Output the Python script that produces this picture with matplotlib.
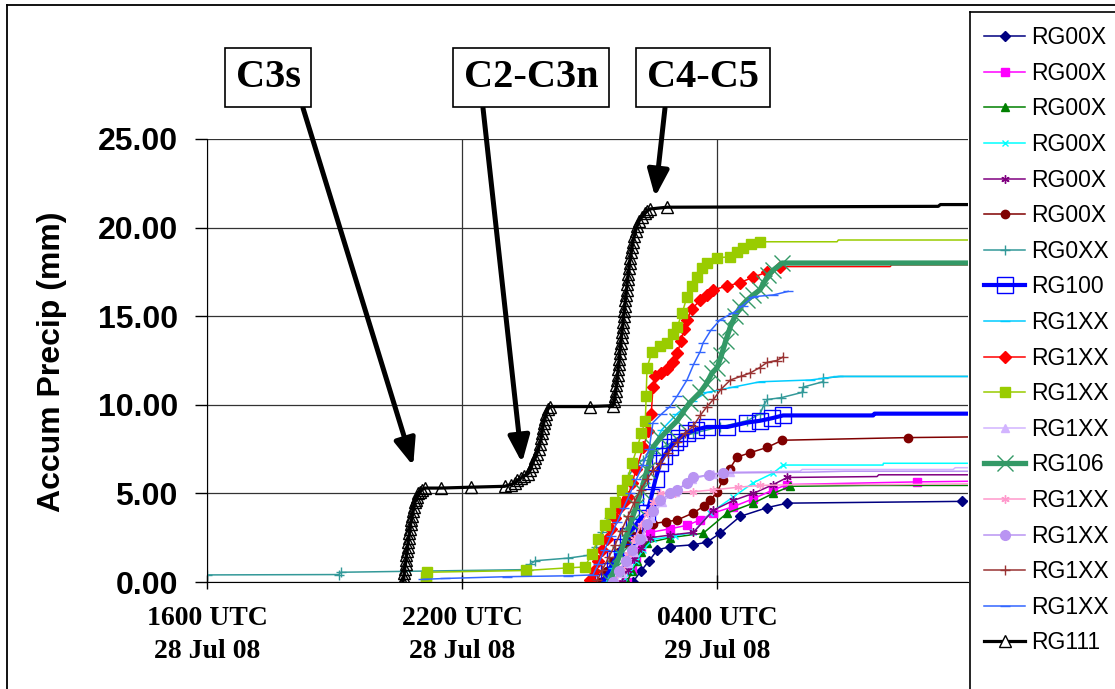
# Accumulated rain gauge precipitation, 28-29 Jul 08
import matplotlib
matplotlib.use("Agg")
import matplotlib.pyplot as plt
from matplotlib.lines import Line2D

# times are hours after 1600 UTC 28 Jul 08, values are accumulated precip (mm)
names = ["RG00X", "RG00X", "RG00X", "RG00X", "RG00X", "RG00X", "RG0XX", "RG100", "RG1XX",
         "RG1XX", "RG1XX", "RG1XX", "RG106", "RG1XX", "RG1XX", "RG1XX", "RG1XX", "RG111"]
colors = ["#000080", "#FF00FF", "#008000", "#00FFFF", "#800080", "#800000", "#339999", "#0000FF", "#00CCFF",
          "#FF0000", "#99CC00", "#D2B4FF", "#339966", "#FF99CC", "#B994F2", "#993333", "#3366FF", "#000000"]
markers = ["D", "s", "^", "x", (6, 2, 0), "o", "+", "s", "_",
           "D", "s", "^", "x", (6, 2, 0), "o", "+", "_", "^"]

t1 = [10.02, 10.2, 10.4, 10.59, 10.89, 11.44, 11.76, 12.07, 12.54, 13.18, 13.65, 17.76, 18.5]
p1 = [0.0, 0.6, 1.2, 1.8, 2.0, 2.1, 2.25, 2.75, 3.7, 4.2, 4.45, 4.55, 4.6]
t2 = [9.88, 10.0, 10.1, 10.2, 10.3, 10.42, 10.89, 11.29, 11.6, 11.91, 12.38, 12.85, 13.32, 13.65, 16.71, 18.5]
p2 = [0.0, 0.7, 1.3, 1.9, 2.4, 2.8, 3.0, 3.2, 3.5, 3.9, 4.25, 4.7, 5.2, 5.5, 5.65, 5.7]
t3 = [9.88, 10.0, 10.12, 10.22, 10.35, 10.89, 11.67, 12.24, 12.85, 13.32, 13.72, 15.5, 18.5]
p3 = [0.0, 0.6, 1.2, 1.7, 2.2, 2.5, 2.75, 3.9, 4.45, 5.0, 5.4, 5.45, 5.45]
t4 = [9.8, 9.95, 10.1, 10.25, 10.49, 11.0, 11.44, 11.84, 12.38, 12.85, 13.32, 13.55, 15.9, 15.91, 18.5]
p4 = [0.0, 0.6, 1.2, 1.8, 2.4, 2.6, 2.8, 3.9, 4.8, 5.6, 6.15, 6.6, 6.6, 6.7, 6.7]
t5 = [9.75, 9.9, 10.05, 10.2, 10.42, 10.9, 11.44, 11.91, 12.38, 12.85, 13.32, 13.65, 15.76, 15.8, 18.5]
p5 = [0.0, 0.7, 1.3, 1.9, 2.5, 2.65, 2.8, 4.05, 4.6, 5.0, 5.5, 5.9, 5.95, 6.05, 6.05]
t6 = [9.25, 9.4, 9.55, 9.7, 9.85, 10.0, 10.2, 10.49, 10.8, 11.06, 11.44, 11.7, 11.84, 12.0, 12.14, 12.3,
      12.47, 12.78, 13.18, 13.53, 16.49, 18.5]
p6 = [0.0, 0.6, 1.2, 1.7, 2.2, 2.6, 3.0, 3.3, 3.4, 3.5, 3.9, 4.3, 4.6, 5.1, 5.75, 6.4,
      7.05, 7.3, 7.6, 8.0, 8.15, 8.2]
t7 = [0.0, 3.1, 3.15, 7.55, 7.6, 7.72, 8.5, 8.95, 9.15, 9.3, 9.45, 9.6, 9.75, 9.9, 10.05, 10.25, 10.49,
      10.8, 11.1, 11.44, 12.07, 12.71, 13.01, 13.1, 13.18, 13.5, 14.0, 14.02, 14.49, 14.5, 14.9, 18.5]
p7 = [0.4, 0.42, 0.55, 0.7, 1.0, 1.2, 1.35, 1.5, 2.0, 2.8, 3.6, 4.4, 5.2, 5.9, 6.5, 6.9, 7.3,
      7.7, 8.1, 8.4, 8.75, 9.1, 9.5, 10.0, 10.3, 10.4, 10.7, 11.0, 11.3, 11.5, 11.6, 11.6]
t8 = [9.32, 9.45, 9.6, 9.75, 9.9, 10.05, 10.2, 10.35, 10.45, 10.55, 10.66, 10.75, 10.89, 11.0, 11.1,
      11.29, 11.5, 11.76, 12.24, 12.71, 13.01, 13.3, 13.55, 15.67, 15.7, 18.5]
p8 = [0.0, 0.6, 1.3, 2.0, 2.6, 3.1, 3.6, 3.9, 4.8, 5.8, 6.7, 7.1, 7.6, 7.9, 8.1,
      8.4, 8.6, 8.75, 8.75, 9.0, 9.1, 9.25, 9.4, 9.4, 9.5, 9.5]
t9 = [9.4, 9.55, 9.7, 9.85, 10.0, 10.15, 10.3, 10.49, 10.7, 11.06, 11.4, 11.76, 12.38, 13.01, 14.19, 14.85, 18.5]
p9 = [0.0, 0.8, 1.7, 2.6, 3.6, 4.5, 5.6, 7.6, 8.6, 9.5, 10.2, 10.7, 11.0, 11.3, 11.4, 11.6, 11.6]
t10 = [9.01, 9.1, 9.2, 9.3, 9.4, 9.5, 9.6, 9.7, 9.8, 9.9, 10.0, 10.1, 10.26, 10.38, 10.45, 10.49, 10.54,
       10.68, 10.82, 10.95, 11.06, 11.15, 11.22, 11.29, 11.4, 11.6, 11.75, 11.91, 12.24, 12.54, 12.85,
       13.18, 13.48, 16.07, 16.1, 18.5]
p10 = [0.1, 0.6, 1.2, 1.8, 2.4, 3.0, 3.6, 4.2, 4.5, 4.8, 5.6, 6.4, 7.6, 8.5, 9.5, 11.0, 11.6,
       11.8, 12.0, 12.4, 12.9, 13.6, 14.3, 14.8, 15.4, 15.9, 16.2, 16.5, 16.7, 16.9, 17.2,
       17.5, 17.8, 17.8, 17.9, 17.9]
t11 = [5.15, 5.16, 5.17, 7.5, 8.5, 8.89, 9.05, 9.2, 9.35, 9.48, 9.6, 9.75, 9.88, 10.0, 10.12, 10.22,
       10.31, 10.33, 10.35, 10.47, 10.66, 10.82, 10.95, 11.06, 11.18, 11.29, 11.41, 11.53, 11.65, 11.76,
       12.0, 12.31, 12.47, 12.61, 12.8, 13.01, 14.82, 14.85, 18.5]
p11 = [0.0, 0.3, 0.55, 0.65, 0.8, 0.85, 1.6, 2.4, 3.2, 3.9, 4.5, 5.2, 5.75, 6.7, 7.6, 8.4,
       9.1, 10.5, 12.1, 13.0, 13.3, 13.5, 14.0, 14.4, 15.2, 16.1, 16.7, 17.2, 17.7, 18.0,
       18.3, 18.35, 18.6, 18.85, 19.05, 19.2, 19.2, 19.3, 19.3]
t12 = [9.6, 9.75, 9.9, 10.05, 10.25, 10.45, 10.7, 11.0, 11.4, 11.9, 12.3, 13.95, 14.0, 17.55, 17.6, 18.5]
p12 = [0.0, 0.5, 1.1, 1.7, 2.6, 3.6, 4.5, 5.1, 5.8, 6.1, 6.2, 6.25, 6.35, 6.35, 6.45, 6.45]
t13 = [9.48, 9.6, 9.72, 9.85, 9.97, 10.1, 10.22, 10.35, 10.49, 10.65, 10.85, 11.06, 11.2, 11.35, 11.6,
       11.75, 11.88, 12.0, 12.1, 12.2, 12.31, 12.42, 12.54, 12.7, 12.85, 13.01, 13.1, 13.2, 13.32, 13.53, 18.5]
p13 = [0.0, 0.8, 1.6, 2.5, 3.4, 4.3, 5.2, 6.3, 7.6, 8.1, 8.6, 9.1, 9.6, 10.1, 10.7,
       11.2, 11.8, 12.1, 12.8, 13.6, 14.4, 15.0, 15.5, 15.9, 16.2, 16.5, 16.9, 17.3, 17.6, 18.0, 18.0]
t14 = [9.6, 9.75, 9.9, 10.05, 10.2, 10.35, 10.5, 10.66, 11.0, 11.44, 11.91, 12.5, 13.0, 14.0, 16.0, 18.5]
p14 = [0.0, 0.8, 1.6, 2.4, 3.2, 3.9, 4.5, 5.0, 5.05, 5.1, 5.2, 5.35, 5.45, 5.5, 5.5, 5.55]
t15 = [9.55, 9.7, 9.85, 10.0, 10.19, 10.35, 10.5, 10.66, 10.9, 11.06, 11.3, 11.44, 11.8, 12.14, 14.19, 15.0, 18.5]
p15 = [0.0, 0.6, 1.2, 1.8, 2.4, 3.3, 4.0, 4.6, 5.0, 5.2, 5.6, 5.9, 6.05, 6.15, 6.2, 6.25, 6.25]
t16 = [9.18, 9.3, 9.45, 9.6, 9.75, 9.9, 10.05, 10.2, 10.35, 10.5, 10.66, 10.85, 11.06, 11.25, 11.44,
       11.6, 11.76, 11.91, 12.1, 12.31, 12.55, 12.78, 13.0, 13.18, 13.4, 13.55]
p16 = [0.1, 0.7, 1.4, 2.1, 2.9, 3.7, 4.5, 5.2, 5.8, 6.3, 6.7, 7.3, 7.9, 8.4, 8.8,
       9.4, 9.9, 10.3, 10.9, 11.4, 11.6, 11.8, 12.1, 12.4, 12.5, 12.7]
t17 = [5.08, 5.6, 7.05, 8.5, 9.08, 9.2, 9.35, 9.5, 9.65, 9.8, 9.95, 10.1, 10.25, 10.4, 10.49, 10.7,
       10.89, 11.06, 11.29, 11.45, 11.6, 11.67, 11.85, 12.07, 12.38, 12.6, 12.85, 13.32, 13.67]
p17 = [0.15, 0.2, 0.3, 0.35, 0.4, 1.0, 1.8, 2.6, 3.4, 4.2, 5.0, 5.8, 6.6, 7.5, 9.0, 9.5,
       9.9, 10.5, 11.4, 12.3, 13.0, 13.5, 14.2, 14.8, 15.2, 15.6, 16.1, 16.2, 16.4]
t18 = [4.61, 4.63, 4.64, 4.65, 4.67, 4.68, 4.69, 4.71, 4.72, 4.73, 4.75, 4.76, 4.78, 4.79, 4.81, 4.83,
       4.85, 4.87, 4.89, 4.91, 4.94, 4.97, 5.0, 5.05, 5.13,
       5.5, 6.2, 7.0, 7.15,
       7.25, 7.3, 7.38, 7.45, 7.55, 7.6, 7.64, 7.68, 7.72, 7.76, 7.8, 7.83, 7.86, 7.88, 7.9, 7.92, 7.95,
       7.98, 8.02, 8.07, 9.0, 9.55,
       9.58, 9.6, 9.62, 9.63, 9.65, 9.66, 9.67, 9.69, 9.70, 9.71, 9.72, 9.74, 9.75, 9.76, 9.78, 9.79,
       9.80, 9.82, 9.83, 9.84, 9.86, 9.87, 9.88, 9.90, 9.91, 9.93, 9.94, 9.96, 9.98, 10.0, 10.02, 10.05,
       10.08, 10.12, 10.17, 10.23, 10.3, 10.36, 10.42, 10.82, 17.2, 17.25, 18.5]
p18 = [0.0, 0.25, 0.5, 0.75, 1.0, 1.25, 1.5, 1.75, 2.0, 2.25, 2.5, 2.75, 3.0, 3.25, 3.5, 3.75,
       4.0, 4.25, 4.5, 4.6, 4.8, 5.0, 5.1, 5.2, 5.3,
       5.3, 5.35, 5.4, 5.5,
       5.6, 5.75, 5.85, 6.0, 6.1, 6.3, 6.55, 6.8, 7.0, 7.25, 7.5, 7.8, 8.1, 8.4, 8.7, 8.95, 9.2,
       9.5, 9.75, 9.9, 9.9, 9.95,
       10.2, 10.5, 10.8, 11.1, 11.4, 11.7, 12.0, 12.3, 12.6, 12.9, 13.2, 13.5, 13.8, 14.1, 14.4, 14.7,
       15.0, 15.3, 15.6, 15.9, 16.2, 16.5, 16.8, 17.1, 17.4, 17.7, 18.0, 18.3, 18.6, 18.9, 19.2, 19.5,
       19.8, 20.1, 20.4, 20.6, 20.8, 20.95, 21.05, 21.15, 21.2, 21.3, 21.3]

times = [t1, t2, t3, t4, t5, t6, t7, t8, t9, t10, t11, t12, t13, t14, t15, t16, t17, t18]
precs = [p1, p2, p3, p4, p5, p6, p7, p8, p9, p10, p11, p12, p13, p14, p15, p16, p17, p18]

tick_hours = [0, 6, 12]
tick_labels = ["1600 UTC\n28 Jul 08", "2200 UTC\n28 Jul 08", "0400 UTC\n29 Jul 08"]

msizes = [5, 6, 6, 5, 6, 6, 7, 12, 7, 6, 7, 6, 11, 6, 7, 7, 7, 9]
lwidths = [1.1, 1.1, 1.1, 1.1, 1.1, 1.1, 1.1, 3.0, 1.1, 1.1, 1.1, 1.1, 3.8, 1.1, 1.1, 1.1, 1.1, 2.3]
# trailing points drawn without a marker
tails = [1, 1, 2, 3, 3, 1, 2, 3, 1, 3, 3, 5, 1, 3, 3, 0, 0, 3]

fig = plt.figure(figsize=(11.15, 6.89), dpi=100)
ax = fig.add_axes([207/1115, 1 - 582/689, (968 - 207)/1115, (582 - 139)/689])

for i in range(len(names)):
    face = colors[i]
    if i == 7 or i == 17:
        face = "none"
    ax.plot(times[i], precs[i], color=colors[i], marker=markers[i], ms=msizes[i], lw=lwidths[i],
            mfc=face, mec=colors[i], mew=1.0, label=names[i],
            markevery=list(range(len(times[i]) - tails[i])))

ax.set_xlim(0, 17.9)
ax.set_ylim(0, 25)
ax.set_yticks([0, 5, 10, 15, 20, 25])
ax.set_yticklabels(["%.2f" % v for v in [0, 5, 10, 15, 20, 25]],
                   fontsize=23, fontweight="bold", family="Liberation Sans")
ax.set_xticks(tick_hours)
ax.set_xticklabels(tick_labels, fontsize=20, fontweight="bold", family="Liberation Serif", linespacing=1.45)
ax.tick_params(axis="y", direction="out", length=9, width=1, pad=12)
ax.tick_params(axis="x", direction="inout", length=10, width=1, pad=12)
ax.grid(True, color="#333333", lw=0.9)
ax.set_axisbelow(True)
for s in ["top", "right"]:
    ax.spines[s].set_visible(False)

fig.text(52/1115, 1 - 362/689, "Accum Precip (mm)", rotation=90, ha="center", va="center",
         fontsize=23, fontweight="bold", family="Liberation Sans")

# outer chart frame and legend frame (both run off the bottom/right of the picture)
fig.add_artist(Line2D([7/1115, 7/1115], [0, 1 - 5/689], color="black", lw=1.3, transform=fig.transFigure))
fig.add_artist(Line2D([7/1115, 1], [1 - 5/689, 1 - 5/689], color="black", lw=1.3, transform=fig.transFigure))
fig.add_artist(Line2D([970/1115, 970/1115], [0, 1 - 12/689], color="black", lw=1.2, transform=fig.transFigure))
fig.add_artist(Line2D([970/1115, 1], [1 - 12/689, 1 - 12/689], color="black", lw=1.2, transform=fig.transFigure))

handles = []
for i in range(len(names)):
    face = "none" if i == 7 else ("white" if i == 17 else colors[i])
    handles.append(Line2D([], [], color=colors[i], marker=markers[i], ms=msizes[i], lw=lwidths[i],
                          mfc=face, mec=colors[i], mew=1.0))
leg = fig.legend(handles, names, loc="upper left", bbox_to_anchor=(970/1115, 1 - 12/689),
                 frameon=False, labelspacing=0.55,
                 handlelength=1.8, handletextpad=0.25, borderpad=0.62, borderaxespad=0,
                 prop={"family": "Liberation Sans", "size": 16.5})

# callouts
boxes = [("C3s", 268, (303, 581), (4.85, 6.55)),
         ("C2-C3n", 531, (483, 581), (7.41, 6.72)),
         ("C4-C5", 703, (665, 581), (10.54, 21.73))]
for txt, cx, start, tip in boxes:
    fig.text(cx/1115, 1 - 77.5/689, txt, ha="center", va="center", fontsize=29, fontweight="bold",
             family="Liberation Serif",
             bbox=dict(boxstyle="square,pad=0.27", fc="white", ec="black", lw=1.2))
    ax.annotate("", xy=tip, xytext=start, textcoords="figure pixels", annotation_clip=False,
                arrowprops=dict(arrowstyle="-|>,head_length=0.8,head_width=0.32", lw=3.6,
                                color="black", shrinkA=0, shrinkB=0, mutation_scale=20))

fig.savefig("out.png", dpi=100)
